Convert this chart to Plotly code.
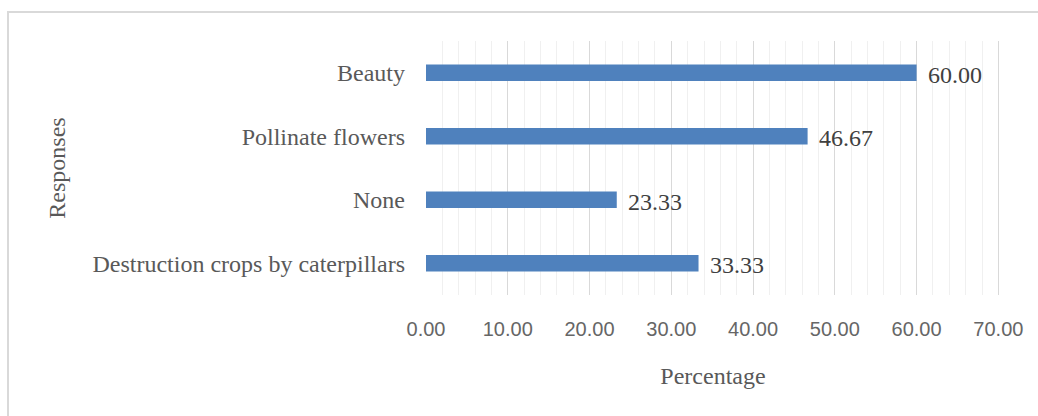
import plotly.graph_objects as go

# Survey responses (percent of respondents)
responses = ["Destruction crops by caterpillars", "None", "Pollinate flowers", "Beauty"]
percentages = [33.33, 23.33, 46.67, 60.00]
tick_values = [0, 10, 20, 30, 40, 50, 60, 70]
tick_labels = ["0.00", "10.00", "20.00", "30.00", "40.00", "50.00", "60.00", "70.00"]

serif = "Liberation Serif, Times New Roman, serif"
sans = "Liberation Sans, Arial, sans-serif"
text_grey = "#595959"

fig = go.Figure()
fig.add_trace(go.Bar(
    y=responses,
    x=percentages,
    orientation="h",
    marker=dict(color="#4f81bd", line=dict(width=0)),
    width=0.26,
))

# Value labels placed just right of each bar end
for cat, val in zip(responses, percentages):
    fig.add_annotation(
        x=val, y=cat, xref="x", yref="y",
        text=f"{val:.2f}", showarrow=False,
        xanchor="left", yanchor="middle", xshift=9, yshift=-2,
        font=dict(family=serif, size=24, color="#404040"),
    )

fig.update_layout(
    width=1038, height=416,
    margin=dict(l=426, r=38, t=41, b=121),
    paper_bgcolor="white", plot_bgcolor="white",
    showlegend=False,
    shapes=[dict(
        type="rect", xref="paper", yref="paper",
        x0=(8 - 426) / 574, x1=1.3, y0=-0.8, y1=(295 - 12) / 254,
        line=dict(color="#d9d9d9", width=2), fillcolor="rgba(0,0,0,0)",
        layer="below",
    )],
)

fig.update_xaxes(
    range=[0, 70.2],
    tickvals=tick_values, ticktext=tick_labels,
    tickfont=dict(family=sans, size=20, color="#666666"),
    showgrid=True, gridcolor="#d9d9d9", gridwidth=1,
    minor=dict(dtick=2, showgrid=True, gridcolor="#f0f0f0", gridwidth=1),
    zeroline=False, showline=False, ticks="",
    ticklabelstandoff=20,
    title=dict(text="Percentage", font=dict(family=serif, size=24, color=text_grey), standoff=28),
)
fig.update_yaxes(
    categoryorder="array", categoryarray=responses,
    tickfont=dict(family=serif, size=24, color=text_grey),
    showgrid=False, zeroline=False, showline=False, ticks="",
    ticklabelstandoff=20,
    title=dict(text="Responses", font=dict(family=serif, size=24, color=text_grey), standoff=20),
)

fig.write_html("out.html")
